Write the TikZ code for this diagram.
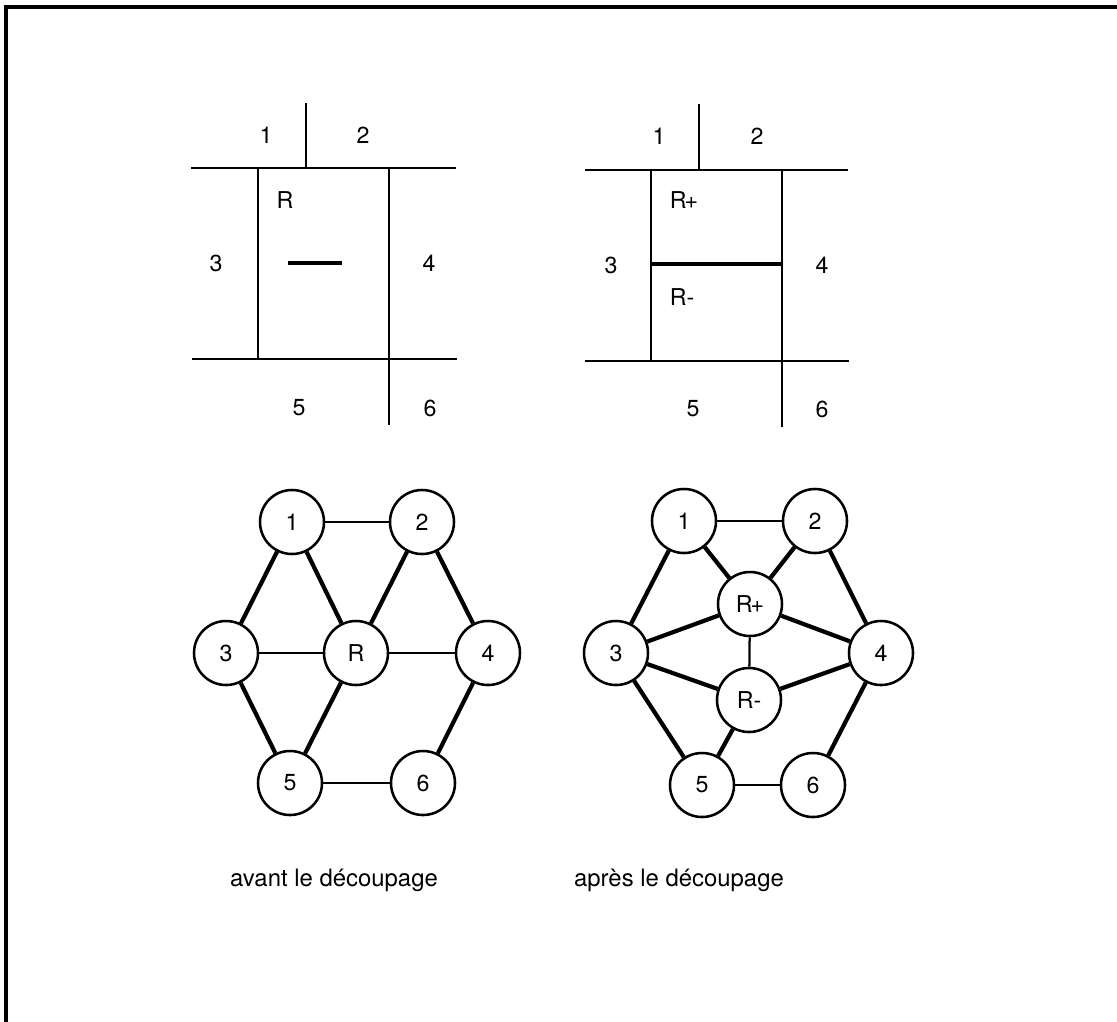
\documentclass[tikz,border=0pt]{standalone}
\usepackage{fontspec}
\setmainfont{TeX Gyre Heros}
\usetikzlibrary{positioning}
\tikzset{
  frameline/.style={line width=2.4pt, line cap=rect},
  wall/.style={line width=1.6pt},
  cutline/.style={line width=2.4pt},
  lbl/.style={font=\fontsize{16.5}{19}\selectfont, inner sep=0pt},
  cell/.style={circle, draw, line width=1.8pt, minimum size=1.6cm,
    inner sep=0pt, font=\fontsize{16.5}{19}\selectfont},
  thinedge/.style={line width=1.6pt},
  thickedge/.style={line width=3pt},
  caption/.style={font=\fontsize{17}{20}\selectfont, inner sep=0pt},
}

\begin{document}
\begin{tikzpicture}[x=0.025cm, y=-0.025cm]
  \useasboundingbox (0,0) rectangle (1117,1021);

  % Frame (top and left only)
  \draw[frameline] (6,1021) -- (6,7) -- (1117,7);

  % Partition before the cut
  \draw[wall] (191,168) -- (456,168);
  \draw[wall] (192,359) -- (457,359);
  \draw[wall] (306,103) -- (306,168);
  \draw[wall] (258,168) -- (258,359);
  \draw[wall] (389,168) -- (389,425);
  \draw[cutline] (288,263) -- (342,263);
  \node[lbl] (a1) at (266,135) {1};
  \node[lbl] (a2) at (363,135) {2};
  \node[lbl] (aR) at (285,200) {R};
  \node[lbl] (a3) at (216,263) {3};
  \node[lbl] (a4) at (429,263) {4};
  \node[lbl] (a5) at (299,408) {5};
  \node[lbl] (a6) at (430,408) {6};

  % Partition after the cut
  \draw[wall] (585,170) -- (848,170);
  \draw[wall] (585,361) -- (849,361);
  \draw[wall] (699,104) -- (699,170);
  \draw[wall] (651,170) -- (651,361);
  \draw[wall] (782,170) -- (782,427);
  \draw[cutline] (651,264) -- (782,264);
  \node[lbl] (b1) at (659,136) {1};
  \node[lbl] (b2) at (757,136) {2};
  \node[lbl] (bRp) at (684,200) {R\kern-1.5pt+};
  \node[lbl] (b3) at (611,265) {3};
  \node[lbl] (b4) at (822,265) {4};
  \node[lbl] (bRm) at (682,297) {R-};
  \node[lbl] (b5) at (693,409) {5};
  \node[lbl] (b6) at (822,409) {6};

  % Graph before the cut
  \node[cell] (g1) at (292,522) {1};
  \node[cell] (g2) at (422,522) {2};
  \node[cell] (g3) at (226,653) {3};
  \node[cell] (gR) at (356,653) {R};
  \node[cell] (g4) at (488,653) {4};
  \node[cell] (g5) at (290,783) {5};
  \node[cell] (g6) at (423,783) {6};
  \draw[thinedge] (g1) -- (g2);
  \draw[thinedge] (g3) -- (gR); \draw[thinedge] (gR) -- (g4);
  \draw[thinedge] (g5) -- (g6);
  \draw[thickedge] (g1) -- (g3); \draw[thickedge] (g1) -- (gR);
  \draw[thickedge] (g2) -- (gR); \draw[thickedge] (g2) -- (g4);
  \draw[thickedge] (g3) -- (g5); \draw[thickedge] (gR) -- (g5);
  \draw[thickedge] (g4) -- (g6);

  % Graph after the cut
  \node[cell] (h1) at (684,521) {1};
  \node[cell] (h2) at (815,521) {2};
  \node[cell] (hRp) at (750,604) {R\kern-1.5pt+};
  \node[cell] (h3) at (616,653) {3};
  \node[cell] (h4) at (881,653) {4};
  \node[cell] (hRm) at (749,700) {R-};
  \node[cell] (h5) at (702,785) {5};
  \node[cell] (h6) at (813,785) {6};
  \draw[thinedge] (h1) -- (h2);
  \draw[thinedge] (hRp) -- (hRm);
  \draw[thinedge] (h5) -- (h6);
  \draw[thickedge] (h1) -- (hRp); \draw[thickedge] (h2) -- (hRp);
  \draw[thickedge] (h1) -- (h3); \draw[thickedge] (h2) -- (h4);
  \draw[thickedge] (h3) -- (hRp); \draw[thickedge] (hRp) -- (h4);
  \draw[thickedge] (h3) -- (hRm); \draw[thickedge] (hRm) -- (h4);
  \draw[thickedge] (h3) -- (h5); \draw[thickedge] (hRm) -- (h5);
  \draw[thickedge] (h4) -- (h6);

  % Captions
  \node[caption] (capA) at (334,880) {avant le découpage};
  \node[caption] (capB) at (679,880) {après le découpage};
\end{tikzpicture}
\end{document}
